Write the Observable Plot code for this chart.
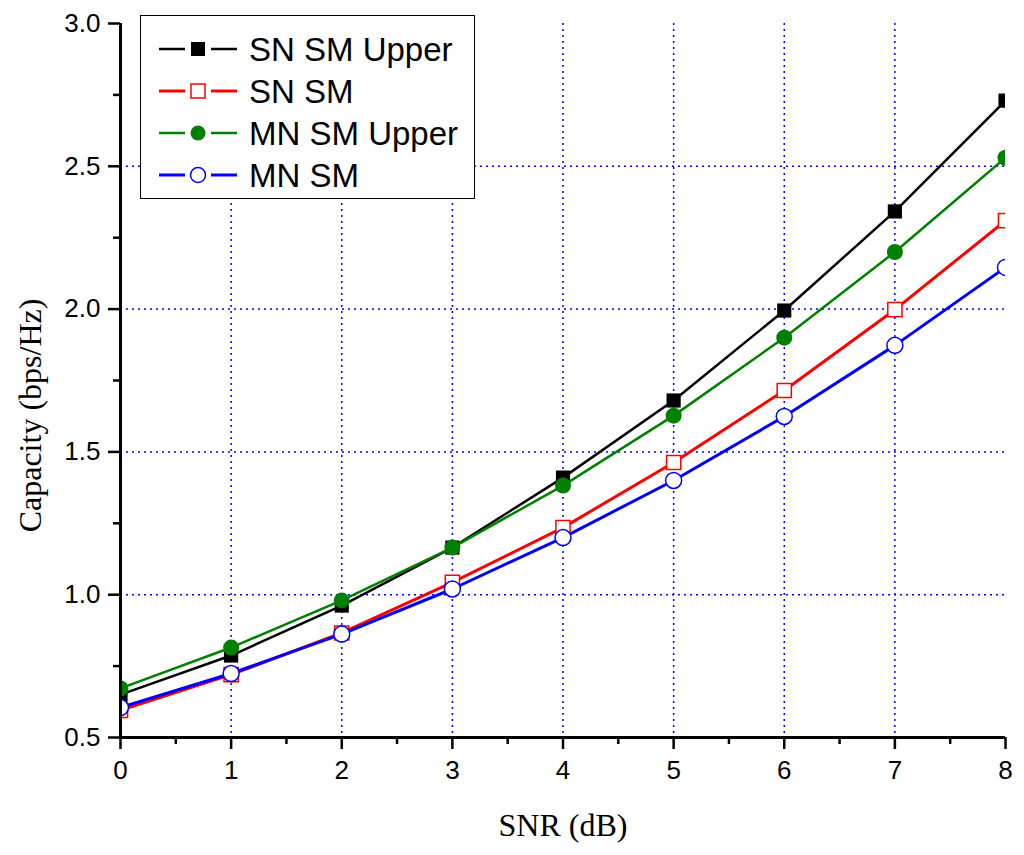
<!DOCTYPE html>
<html>
<head>
<meta charset="utf-8">
<script src="https://cdn.jsdelivr.net/npm/d3@7"></script>
<script src="https://cdn.jsdelivr.net/npm/@observablehq/plot@0.6"></script>
<style>
  html, body { margin: 0; padding: 0; background: #fff; }
  #wrap { position: relative; width: 1024px; height: 855px; }
  #legend { position: absolute; left: 140px; top: 15px; width: 335px; height: 184px;
    border: 1.5px solid #000; background: #fff; box-sizing: border-box;
    font-family: "Liberation Sans", Arial, sans-serif; font-size: 33px; color: #000; }
  .row { position: absolute; left: 0; height: 42px; display: flex; align-items: center; }
  .row svg { display: block; }
  .row span { margin-left: 8px; line-height: 1; }
</style>
</head>
<body>
<div id="wrap"><div id="legend"></div></div>
<script>
// ---- data ----
const snr = [0, 1, 2, 3, 4, 5, 6, 7, 8];
const seriesNames = ["SN SM Upper", "SN SM", "MN SM Upper", "MN SM"];
const snSmUpper = [0.65, 0.787, 0.962, 1.165, 1.41, 1.68, 1.995, 2.342, 2.73];
const snSm      = [0.595, 0.72, 0.866, 1.043, 1.235, 1.463, 1.715, 1.998, 2.31];
const mnSmUpper = [0.672, 0.815, 0.98, 1.165, 1.382, 1.627, 1.90, 2.20, 2.53];
const mnSm      = [0.605, 0.724, 0.862, 1.02, 1.20, 1.40, 1.624, 1.873, 2.146];
const seriesColors = ["#000000", "#ff0000", "#008000", "#0000ff"];
const seriesSymbols = ["square", "square", "circle", "circle"];
const seriesFilled = [true, false, true, false];
const xTicks = [0, 1, 2, 3, 4, 5, 6, 7, 8];
const xMinorTicks = [0.5, 1.5, 2.5, 3.5, 4.5, 5.5, 6.5, 7.5];
const yTicks = [0.5, 1.0, 1.5, 2.0, 2.5, 3.0];
const yMinorTicks = [0.75, 1.25, 1.75, 2.25, 2.75];
const xGrid = [1, 2, 3, 4, 5, 6, 7];
const yGrid = [1.0, 1.5, 2.0, 2.5];
const xLabel = "SNR (dB)";
const yLabel = "Capacity (bps/Hz)";

const values = [snSmUpper, snSm, mnSmUpper, mnSm];
const rows = [];
values.forEach((arr, i) => arr.forEach((v, j) => rows.push({series: seriesNames[i], idx: i, x: snr[j], y: v})));

const marks = [
  Plot.ruleX(xGrid, {stroke: "#0000ff", strokeWidth: 1.5, strokeDasharray: "2,4"}),
  Plot.ruleY(yGrid, {stroke: "#0000ff", strokeWidth: 1.5, strokeDasharray: "2,4"})
];
seriesNames.forEach((name, i) => {
  const d = rows.filter(r => r.idx === i);
  marks.push(Plot.line(d, {x: "x", y: "y", stroke: seriesColors[i], strokeWidth: (i % 2 ? 3 : 2.5), clip: "frame"}));
  marks.push(Plot.dot(d, {x: "x", y: "y", symbol: seriesSymbols[i], r: 8,
    fill: seriesFilled[i] ? seriesColors[i] : "#fff",
    stroke: seriesFilled[i] ? "none" : seriesColors[i], strokeWidth: 1.5, clip: "frame"}));
});
marks.push(
  Plot.axisX(xTicks, {tickSize: 12, tickPadding: 11, strokeWidth: 2.5, fontSize: 26, label: null,
    fontFamily: "Liberation Sans, Arial, sans-serif", tickFormat: d3.format("d")}),
  Plot.axisX(xMinorTicks, {tickSize: 7, strokeWidth: 2.5, text: null, label: null}),
  Plot.axisY(yTicks, {tickSize: 12, tickPadding: 8, strokeWidth: 2.5, fontSize: 26, label: null,
    fontFamily: "Liberation Sans, Arial, sans-serif", tickFormat: d3.format(".1f")}),
  Plot.axisY(yMinorTicks, {tickSize: 7, strokeWidth: 2.5, text: null, label: null}),
  Plot.ruleX([0], {strokeWidth: 3}),
  Plot.ruleY([0.5], {strokeWidth: 3}),
  Plot.text([xLabel], {frameAnchor: "bottom", dy: 98, fontSize: 32, fontFamily: "Liberation Serif, Times New Roman, serif", fill: "#000"}),
  Plot.text([yLabel], {frameAnchor: "left", textAnchor: "middle", dx: -90, dy: 35, rotate: -90, fontSize: 32, fontFamily: "Liberation Serif, Times New Roman, serif", fill: "#000"})
);

const chart = Plot.plot({
  width: 1024, height: 855,
  marginLeft: 120, marginRight: 19, marginTop: 23, marginBottom: 118,
  x: {domain: [0, 8]},
  y: {domain: [0.5, 3.0]},
  style: {background: "#fff", color: "#000"},
  marks
});
const wrap = document.getElementById("wrap");
wrap.insertBefore(chart, wrap.firstChild);

// legend
const legend = document.getElementById("legend");
seriesNames.forEach((name, i) => {
  const row = document.createElement("div");
  row.className = "row";
  row.style.top = (12 + i * 42) + "px";
  const c = seriesColors[i];
  const fill = seriesFilled[i] ? c : "#fff";
  const sw = i % 2 ? 3 : 2.5;
  const sym = seriesSymbols[i] === "square"
    ? `<rect x="50" y="14" width="14" height="14" fill="${fill}" stroke="${seriesFilled[i] ? "none" : c}" stroke-width="1.5"/>`
    : `<circle cx="57" cy="21" r="7.5" fill="${fill}" stroke="${seriesFilled[i] ? "none" : c}" stroke-width="1.5"/>`;
  row.innerHTML = `<svg width="100" height="42">
     <line x1="18" x2="44" y1="21" y2="21" stroke="${c}" stroke-width="${sw}"/>
     <line x1="70" x2="96" y1="21" y2="21" stroke="${c}" stroke-width="${sw}"/>
     ${sym}
   </svg><span>${name}</span>`;
  legend.appendChild(row);
});
</script>
</body>
</html>
